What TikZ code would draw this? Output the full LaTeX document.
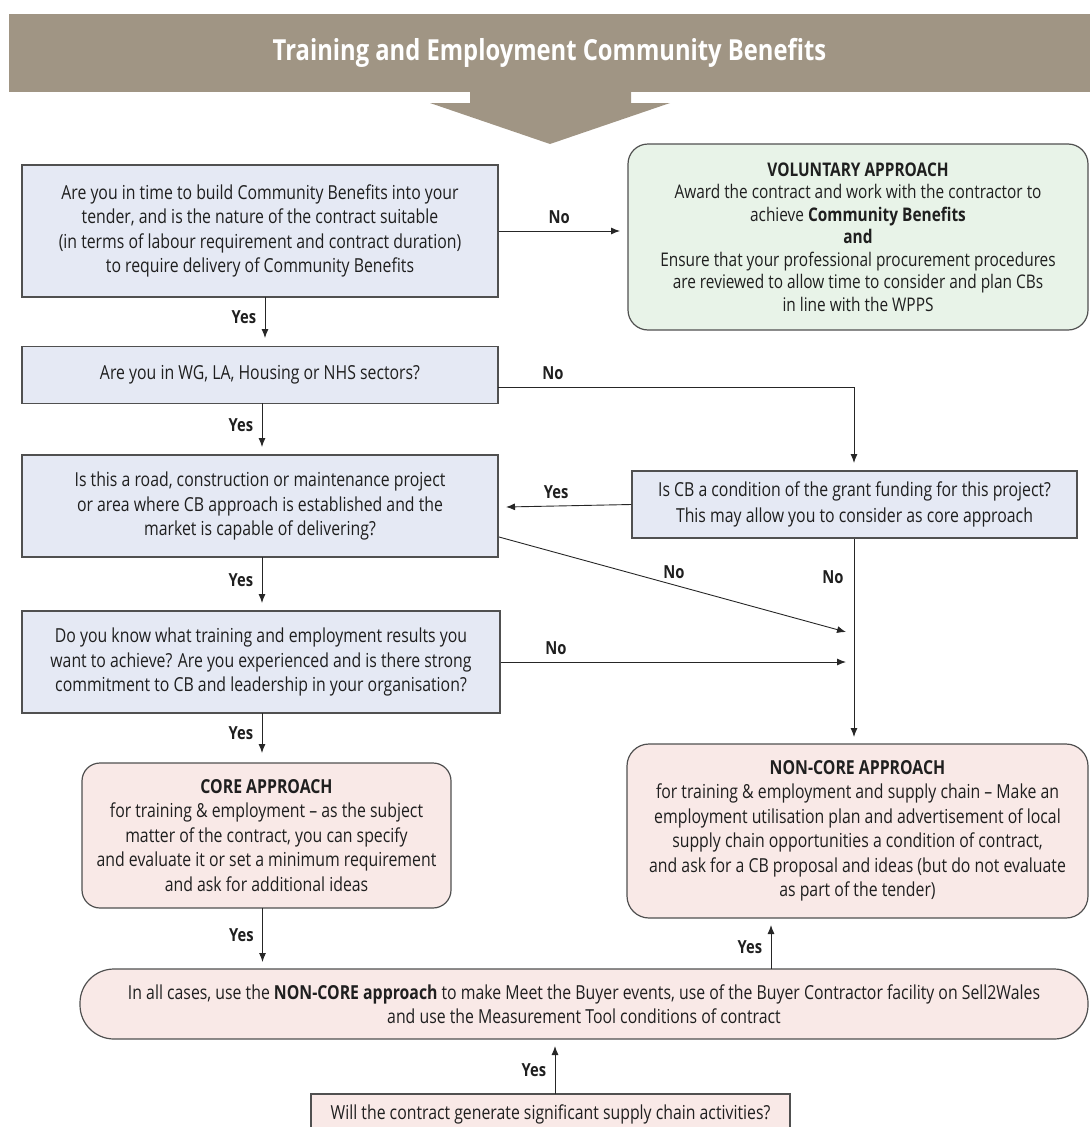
\documentclass[tikz,border=0pt]{standalone}
\usepackage{fontspec}
\setmainfont{Open Sans}[FakeStretch=0.82]
\usetikzlibrary{arrows.meta}
\definecolor{banner}{RGB}{160,149,132}
\definecolor{qblue}{RGB}{229,233,244}
\definecolor{vgreen}{RGB}{232,243,232}
\definecolor{cpink}{RGB}{249,233,231}
\definecolor{edgegray}{RGB}{80,80,80}
\begin{document}
\begin{tikzpicture}[x=1pt,y=-1pt,
  txt/.style={font=\fontsize{19.3}{24.5}\selectfont, align=center, text=black!88},
  qbox/.style={txt, draw=edgegray, line width=1.2pt, fill=qblue, inner sep=0pt},
  pbox/.style={txt, draw=edgegray, line width=1.2pt, fill=cpink, inner sep=0pt},
  gbox/.style={txt, draw=edgegray, line width=1.2pt, fill=vgreen, inner sep=0pt},
  lab/.style={font=\bfseries\fontsize{18}{20}\selectfont, text=black!88},
  arr/.style={-{Latex[length=9pt,width=7pt]}, line width=0.9pt, draw=black!85},
  ln/.style={line width=0.9pt, draw=black!85}
]
\useasboundingbox (0,0) rectangle (1090,1127);

% banner
\node[fill=banner, minimum width=1081pt, minimum height=78pt, inner sep=0pt,
      text=white, font=\bfseries\fontsize{29}{32}\selectfont] (title) at (549.5,53)
      {Training and Employment Community Benefits};
\fill[banner] (470,91) -- (631,91) -- (631,103) -- (670,103) -- (550,144)
      -- (430,103) -- (470,103) -- cycle;

% nodes
\node[qbox, minimum width=476pt, minimum height=132pt] (q1) at (260,231)
  {Are you in time to build Community Benefits into your\\
   tender, and is the nature of the contract suitable\\
   (in terms of labour requirement and contract duration)\\
   to require delivery of Community Benefits};

\node[gbox, rounded corners=20pt, minimum width=460pt, minimum height=186pt,
      font=\fontsize{18.8}{22.5}\selectfont] (vol) at (858,237)
  {\textbf{VOLUNTARY APPROACH}\\
   Award the contract and work with the contractor to\\
   achieve \textbf{Community Benefits}\\
   \textbf{and}\\
   Ensure that your professional procurement procedures\\
   are reviewed to allow time to consider and plan CBs\\
   in line with the WPPS};

\node[qbox, minimum width=476pt, minimum height=57pt] (q2) at (260,375)
  {Are you in WG, LA, Housing or NHS sectors?};

\node[qbox, minimum width=476pt, minimum height=102pt] (q3) at (260,506)
  {Is this a road, construction or maintenance project\\
   or area where CB approach is established and the\\
   market is capable of delivering?};

\node[qbox, minimum width=445pt, minimum height=67pt, font=\fontsize{19.3}{26}\selectfont] (grant) at (854.5,504.5)
  {Is CB a condition of the grant funding for this project?\\
   This may allow you to consider as core approach};

\node[qbox, minimum width=478pt, minimum height=102pt] (q4) at (261,662)
  {Do you know what training and employment results you\\
   want to achieve? Are you experienced and is there strong\\
   commitment to CB and leadership in your organisation?};

\node[pbox, rounded corners=18pt, minimum width=369pt, minimum height=145pt] (core) at (266.5,835.5)
  {\textbf{CORE APPROACH}\\
   for training \& employment -- as the subject\\
   matter of the contract, you can specify\\
   and evaluate it or set a minimum requirement\\
   and ask for additional ideas};

\node[pbox, rounded corners=22pt, minimum width=461pt, minimum height=174pt] (noncore) at (857.5,831)
  {\textbf{NON-CORE APPROACH}\\
   for training \& employment and supply chain -- Make an\\
   employment utilisation plan and advertisement of local\\
   supply chain opportunities a condition of contract,\\
   and ask for a CB proposal and ideas (but do not evaluate\\
   as part of the tender)};

\node[pbox, rounded corners=34pt, minimum width=1008pt, minimum height=70pt] (allcases) at (584,1004)
  {In all cases, use the \textbf{NON-CORE approach} to make Meet the Buyer events, use of the Buyer Contractor facility on Sell2Wales\\
   and use the Measurement Tool conditions of contract};

\node[pbox, minimum width=479pt, minimum height=40pt] (supply) at (550.5,1114)
  {Will the contract generate significant supply chain activities?};

% junction coordinates
\coordinate (c1) at (854,387);
\coordinate (c2) at (854,463);
\coordinate (c3) at (846,632);
\coordinate (c4) at (846,662);
\coordinate (c5) at (854,737);

% connectors
\draw[arr] (q1.east) -- (620,231) node[lab, midway, above=4pt] {No};
\draw[arr] (265,297) -- (265,338) node[lab, midway, left=5pt] {Yes};
\draw[ln] (498,387) -- (c1);
\draw[arr] (c1) -- (c2);
\node[lab] (no2) at (553,373) {No};
\draw[arr] (262,403) -- (262,447) node[lab, midway, left=5pt] {Yes};
\draw[arr] (grant.west) -- (506,507) node[lab, pos=0.6, above=4pt] {Yes};
\draw[arr] (499,537) -- (c3);
\node[lab] (no3) at (674,572) {No};
\draw[arr] (262,557) -- (262,603) node[lab, midway, left=5pt] {Yes};
\draw[arr] (q4.east) -- (c4);
\node[lab] (no4) at (556,648) {No};
\draw[arr] (grant.south -| c5) -- (c5);
\node[lab] (no5) at (833,577) {No};
\draw[arr] (262,713) -- (262,753) node[lab, midway, left=5pt] {Yes};
\draw[arr] (262.5,908) -- (262.5,962) node[lab, midway, left=5pt] {Yes};
\draw[arr] (771,969) -- (771,925) node[lab, midway, left=5pt] {Yes};
\draw[arr] (555,1094) -- (555,1046) node[lab, midway, left=5pt] {Yes};
\end{tikzpicture}
\end{document}
